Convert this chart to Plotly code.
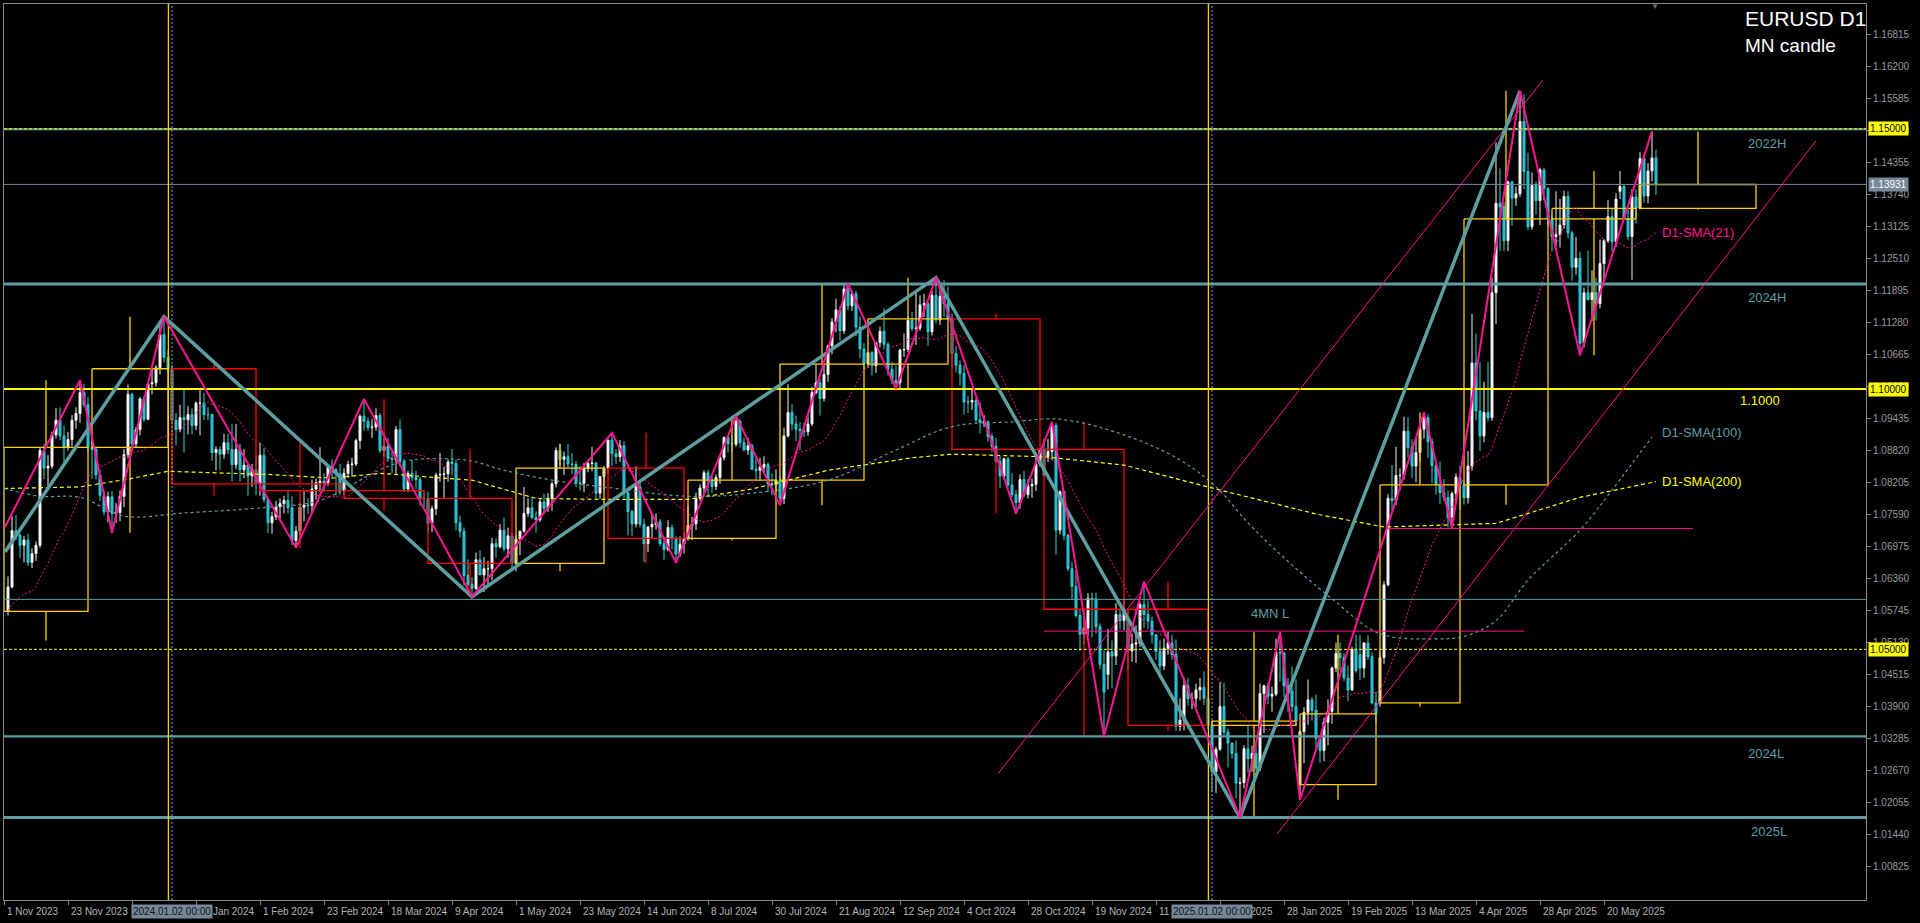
import plotly.graph_objects as go

# ---------------- daily EURUSD candles (bar index 0 = 2 Nov 2023 ... 412 = 6 Jun 2025) ----------------
open_ = [
 1.0573,1.0620,1.0728,1.0719,1.0700,1.0710,1.0667,1.0684,1.0700,1.0882,1.0848,1.0852,1.0912,1.0940,1.0910,1.0888,1.0903,1.0940,1.0953,1.0993,1.0970,
 1.0888,1.0884,1.0835,1.0796,1.0764,1.0793,1.0761,1.0763,1.0794,1.0874,1.0990,1.0895,1.0922,1.0981,1.0942,1.1010,1.1012,1.1041,1.1105,1.1061,
 1.1039,1.0940,1.0922,1.0945,1.0941,1.0951,1.0930,1.0973,1.0973,1.0951,1.0951,1.0878,1.0884,1.0875,1.0897,1.0884,1.0855,1.0884,1.0845,1.0854,1.0833,1.0845,
 1.0818,1.0873,1.0788,1.0743,1.0755,1.0774,1.0780,1.0786,1.0772,1.0709,1.0727,1.0773,1.0777,1.0776,1.0808,1.0820,1.0823,1.0820,1.0851,1.0845,1.0837,
 1.0805,1.0838,1.0855,1.0856,1.0901,1.0948,1.0938,1.0926,1.0927,1.0949,1.0882,1.0890,1.0867,1.0865,1.0922,1.0861,1.0808,1.0838,1.0830,1.0826,1.0790,
 1.0790,1.0742,1.0770,1.0835,1.0836,1.0837,1.0860,1.0857,1.0743,1.0727,1.0642,1.0625,1.0617,1.0672,1.0643,1.0655,1.0655,1.0703,1.0697,1.0729,1.0693,1.0718,
 1.0665,1.0712,1.0727,1.0761,1.0772,1.0753,1.0749,1.0783,1.0771,1.0790,1.0818,1.0882,1.0865,1.0870,1.0856,1.0855,1.0820,1.0819,1.0847,1.0857,1.0858,1.0800,1.0832,
 1.0848,1.0902,1.0876,1.0870,1.0891,1.0801,1.0765,1.0741,1.0812,1.0740,1.0703,1.0735,1.0740,1.0745,1.0703,1.0692,1.0734,1.0713,1.0683,1.0702,
 1.0713,1.0738,1.0741,1.0790,1.0810,1.0839,1.0825,1.0813,1.0830,1.0868,1.0907,1.0895,1.0894,1.0938,1.0897,1.0883,1.0891,1.0846,1.0844,1.0850,1.0855,1.0818,1.0816,
 1.0825,1.0790,1.0910,1.0955,1.0933,1.0923,1.0920,1.0918,1.0933,1.0993,1.1012,1.0982,1.1028,1.1083,1.1129,1.1152,1.1112,1.1192,1.1160,1.1183,1.1119,1.1077,
 1.1048,1.1070,1.1045,1.1089,1.1111,1.1086,1.1038,1.1017,1.1012,1.1075,1.1076,1.1132,1.1116,1.1117,1.1162,1.1164,1.1110,1.1180,1.1133,1.1178,1.1164,
 1.1135,1.1068,1.1046,1.1030,1.0975,1.0975,1.0978,1.0941,1.0936,1.0937,1.0909,1.0890,1.0861,1.0833,1.0866,1.0816,1.0797,1.0782,1.0826,1.0797,1.0814,1.0817,1.0855,
 1.0884,1.0870,1.0880,1.0930,1.0729,1.0803,1.0719,1.0655,1.0621,1.0565,1.0529,1.0541,1.0598,1.0597,1.0544,1.0471,1.0452,1.0495,1.0487,1.0567,1.0555,
 1.0560,1.0497,1.0510,1.0512,1.0586,1.0567,1.0554,1.0528,1.0496,1.0468,1.0502,1.0512,1.0490,1.0352,1.0364,1.0430,1.0405,1.0406,1.0422,1.0427,1.0406,
 1.0354,1.0265,1.0308,1.0390,1.0341,1.0320,1.0300,1.0243,1.0244,1.0309,1.0290,1.0300,1.0272,1.0415,1.0430,1.0410,1.0414,1.0494,1.0493,1.0430,1.0420,1.0390,
 1.0240,1.0342,1.0379,1.0403,1.0383,1.0329,1.0306,1.0360,1.0381,1.0464,1.0492,1.0484,1.0445,1.0422,1.0500,1.0490,1.0464,1.0512,1.0486,1.0397,
 1.0397,1.0484,1.0624,1.0790,1.0786,1.0834,1.0834,1.0919,1.0888,1.0852,1.0878,1.0923,1.0945,1.0899,1.0853,1.0816,1.0801,1.0792,1.0754,1.0799,1.0831,
 1.0816,1.0791,1.0852,1.1050,1.0958,1.0910,1.0955,1.0945,1.1185,1.1357,1.1350,1.1285,1.1398,1.1367,1.1375,1.1514,1.1418,1.1312,1.1391,1.1362,1.1421,1.1385,
 1.1327,1.1293,1.1297,1.1315,1.1370,1.1300,1.1234,1.1251,1.1088,1.1185,1.1172,1.1185,1.1164,1.1241,1.1285,1.1331,1.1283,1.1380,1.1389,1.1327,1.1293,1.1369,
 1.1347,1.1443,1.1371,1.1419,1.1444]
high = [
 1.0640,1.0756,1.0758,1.0723,1.0718,1.0722,1.0694,1.0707,1.0887,1.0895,1.0873,1.0918,1.0964,1.0965,1.0930,1.0918,1.0950,1.0965,1.1017,1.1010,1.0985,
 1.0900,1.0890,1.0845,1.0805,1.0803,1.0804,1.0781,1.0805,1.0885,1.1009,1.0993,1.0927,1.0985,1.0988,1.1012,1.1040,1.1046,1.1122,1.1139,1.1075,
 1.1046,1.0954,1.0970,1.0998,1.0967,1.0963,1.0976,1.0998,1.0993,1.0965,1.0953,1.0890,1.0890,1.0914,1.0914,1.0932,1.0933,1.0895,1.0885,1.0856,1.0856,1.0873,
 1.0897,1.0887,1.0791,1.0764,1.0785,1.0790,1.0795,1.0806,1.0794,1.0737,1.0781,1.0806,1.0790,1.0826,1.0828,1.0888,1.0838,1.0855,1.0865,1.0848,1.0856,
 1.0848,1.0862,1.0868,1.0905,1.0951,1.0981,1.0945,1.0943,1.0963,1.0954,1.0907,1.0906,1.0879,1.0929,1.0942,1.0866,1.0843,1.0864,1.0843,1.0831,1.0803,
 1.0803,1.0776,1.0839,1.0877,1.0851,1.0865,1.0885,1.0865,1.0757,1.0734,1.0673,1.0639,1.0686,1.0690,1.0677,1.0670,1.0714,1.0713,1.0741,1.0753,1.0734,1.0722,
 1.0720,1.0728,1.0812,1.0790,1.0791,1.0765,1.0790,1.0799,1.0800,1.0822,1.0888,1.0895,1.0880,1.0894,1.0877,1.0862,1.0852,1.0858,1.0863,1.0889,1.0860,1.0833,1.0852,
 1.0902,1.0916,1.0885,1.0902,1.0900,1.0802,1.0768,1.0852,1.0826,1.0751,1.0737,1.0762,1.0761,1.0750,1.0716,1.0748,1.0740,1.0717,1.0717,1.0724,
 1.0776,1.0754,1.0801,1.0817,1.0844,1.0845,1.0834,1.0836,1.0871,1.0909,1.0911,1.0911,1.0948,1.0943,1.0907,1.0906,1.0895,1.0868,1.0868,1.0871,1.0859,1.0838,1.0846,
 1.0833,1.0926,1.1009,1.0971,1.0949,1.0937,1.0935,1.0947,1.1004,1.1047,1.1020,1.1048,1.1085,1.1136,1.1174,1.1159,1.1201,1.1202,1.1189,1.1189,1.1140,1.1088,
 1.1072,1.1073,1.1090,1.1120,1.1155,1.1090,1.1052,1.1045,1.1078,1.1107,1.1140,1.1148,1.1190,1.1180,1.1183,1.1167,1.1189,1.1214,1.1203,1.1209,1.1197,
 1.1145,1.1083,1.1055,1.1046,1.0987,1.0999,1.0983,1.0975,1.0950,1.0940,1.0915,1.0906,1.0871,1.0868,1.0870,1.0839,1.0806,1.0836,1.0843,1.0827,1.0828,1.0869,1.0886,
 1.0905,1.0904,1.0937,1.0935,1.0805,1.0805,1.0722,1.0668,1.0652,1.0576,1.0568,1.0608,1.0609,1.0609,1.0550,1.0498,1.0539,1.0517,1.0589,1.0576,1.0597,
 1.0574,1.0530,1.0546,1.0591,1.0630,1.0594,1.0563,1.0530,1.0517,1.0521,1.0534,1.0528,1.0519,1.0406,1.0446,1.0445,1.0417,1.0434,1.0445,1.0458,1.0418,
 1.0364,1.0313,1.0437,1.0436,1.0348,1.0321,1.0325,1.0254,1.0316,1.0353,1.0315,1.0314,1.0434,1.0432,1.0436,1.0428,1.0520,1.0533,1.0495,1.0445,1.0467,1.0442,
 1.0344,1.0389,1.0442,1.0408,1.0413,1.0333,1.0369,1.0404,1.0467,1.0513,1.0513,1.0493,1.0469,1.0505,1.0528,1.0528,1.0514,1.0527,1.0494,1.0418,
 1.0496,1.0631,1.0798,1.0854,1.0889,1.0848,1.0947,1.0946,1.0904,1.0906,1.0927,1.0955,1.0951,1.0906,1.0860,1.0861,1.0827,1.0805,1.0803,1.0838,1.0853,
 1.0821,1.0881,1.1144,1.1107,1.1051,1.1014,1.1052,1.1214,1.1474,1.1424,1.1359,1.1400,1.1400,1.1389,1.1573,1.1566,1.1454,1.1416,1.1399,1.1425,1.1425,1.1388,
 1.1335,1.1380,1.1365,1.1381,1.1380,1.1304,1.1292,1.1264,1.1195,1.1266,1.1228,1.1214,1.1287,1.1288,1.1363,1.1346,1.1376,1.1419,1.1394,1.1346,1.1384,1.1384,
 1.1455,1.1452,1.1434,1.1495,1.1460]
low = [
 1.0565,1.0617,1.0710,1.0676,1.0667,1.0660,1.0656,1.0670,1.0695,1.0827,1.0813,1.0847,1.0905,1.0902,1.0852,1.0882,1.0890,1.0924,1.0935,1.0965,1.0880,
 1.0828,1.0826,1.0785,1.0757,1.0744,1.0724,1.0743,1.0746,1.0773,1.0867,1.0880,1.0888,1.0911,1.0937,1.0940,1.0990,1.1005,1.1028,1.1051,1.1032,
 1.0937,1.0892,1.0917,1.0878,1.0913,1.0913,1.0921,1.0911,1.0940,1.0940,1.0862,1.0844,1.0845,1.0866,1.0875,1.0822,1.0846,1.0822,1.0829,1.0795,1.0812,1.0796,
 1.0795,1.0782,1.0723,1.0722,1.0748,1.0751,1.0761,1.0761,1.0700,1.0695,1.0717,1.0746,1.0760,1.0761,1.0788,1.0803,1.0802,1.0814,1.0830,1.0796,1.0796,
 1.0796,1.0829,1.0832,1.0852,1.0885,1.0920,1.0920,1.0906,1.0920,1.0877,1.0869,1.0860,1.0838,1.0836,1.0852,1.0802,1.0802,1.0823,1.0808,1.0776,1.0773,
 1.0724,1.0725,1.0758,1.0822,1.0791,1.0822,1.0834,1.0728,1.0715,1.0622,1.0620,1.0601,1.0614,1.0643,1.0610,1.0624,1.0633,1.0676,1.0694,1.0688,1.0676,1.0650,
 1.0650,1.0681,1.0724,1.0755,1.0750,1.0724,1.0745,1.0760,1.0764,1.0766,1.0811,1.0853,1.0835,1.0848,1.0836,1.0812,1.0805,1.0802,1.0840,1.0842,1.0789,1.0789,1.0807,
 1.0837,1.0852,1.0856,1.0860,1.0790,1.0719,1.0718,1.0734,1.0734,1.0668,1.0687,1.0713,1.0730,1.0698,1.0671,1.0689,1.0692,1.0666,1.0678,1.0684,
 1.0709,1.0710,1.0729,1.0785,1.0796,1.0792,1.0801,1.0806,1.0818,1.0863,1.0878,1.0878,1.0889,1.0888,1.0880,1.0874,1.0845,1.0825,1.0826,1.0838,1.0802,1.0796,1.0803,
 1.0777,1.0779,1.0907,1.0921,1.0900,1.0882,1.0908,1.0910,1.0929,1.0990,1.0949,1.0976,1.1014,1.1067,1.1109,1.1093,1.1106,1.1152,1.1150,1.1102,1.1059,1.1040,
 1.1041,1.1026,1.1031,1.1080,1.1076,1.1026,1.1010,1.1001,1.1002,1.1062,1.1071,1.1111,1.1085,1.1112,1.1138,1.1083,1.1103,1.1126,1.1123,1.1139,1.1134,
 1.1040,1.1032,1.1007,1.0951,1.0954,1.0960,1.0935,1.0915,1.0927,1.0899,1.0879,1.0859,1.0810,1.0829,1.0811,1.0792,1.0761,1.0770,1.0793,1.0790,1.0791,1.0804,1.0851,
 1.0830,1.0860,1.0864,1.0682,1.0721,1.0709,1.0650,1.0595,1.0561,1.0497,1.0510,1.0525,1.0523,1.0530,1.0462,1.0333,1.0423,1.0425,1.0470,1.0538,1.0537,
 1.0460,1.0476,1.0474,1.0505,1.0541,1.0539,1.0511,1.0480,1.0452,1.0460,1.0490,1.0480,1.0343,1.0343,1.0344,1.0392,1.0385,1.0389,1.0402,1.0393,1.0347,
 1.0226,1.0224,1.0305,1.0335,1.0273,1.0290,1.0214,1.0177,1.0233,1.0263,1.0265,1.0266,1.0266,1.0339,1.0395,1.0380,1.0410,1.0438,1.0408,1.0380,1.0380,1.0355,
 1.0211,1.0281,1.0355,1.0363,1.0306,1.0282,1.0285,1.0316,1.0357,1.0456,1.0460,1.0439,1.0400,1.0420,1.0455,1.0441,1.0445,1.0480,1.0394,1.0359,
 1.0390,1.0472,1.0621,1.0767,1.0777,1.0805,1.0826,1.0868,1.0829,1.0821,1.0861,1.0905,1.0868,1.0819,1.0797,1.0779,1.0784,1.0734,1.0733,1.0781,1.0768,
 1.0778,1.0780,1.0843,1.0940,1.0881,1.0898,1.0938,1.0939,1.1125,1.1265,1.1265,1.1265,1.1314,1.1352,1.1369,1.1384,1.1306,1.1306,1.1335,1.1315,1.1363,1.1312,
 1.1265,1.1273,1.1272,1.1308,1.1290,1.1208,1.1220,1.1065,1.1080,1.1170,1.1131,1.1132,1.1155,1.1206,1.1281,1.1264,1.1273,1.1365,1.1324,1.1286,1.1210,1.1318,
 1.1345,1.1358,1.1357,1.1399,1.1373]
close = [
 1.0620,1.0728,1.0719,1.0700,1.0710,1.0667,1.0684,1.0700,1.0882,1.0848,1.0852,1.0912,1.0940,1.0910,1.0888,1.0903,1.0940,1.0953,1.0993,1.0970,1.0888,
 1.0884,1.0835,1.0796,1.0764,1.0793,1.0761,1.0763,1.0794,1.0874,1.0990,1.0895,1.0922,1.0981,1.0942,1.1010,1.1012,1.1041,1.1105,1.1061,1.1039,
 1.0940,1.0922,1.0945,1.0941,1.0951,1.0930,1.0973,1.0973,1.0951,1.0951,1.0878,1.0884,1.0875,1.0897,1.0884,1.0855,1.0884,1.0845,1.0854,1.0833,1.0845,1.0818,
 1.0873,1.0788,1.0743,1.0755,1.0774,1.0780,1.0786,1.0772,1.0709,1.0727,1.0773,1.0777,1.0776,1.0808,1.0820,1.0823,1.0820,1.0851,1.0845,1.0837,1.0805,
 1.0838,1.0855,1.0856,1.0901,1.0948,1.0938,1.0926,1.0927,1.0949,1.0882,1.0890,1.0867,1.0865,1.0922,1.0861,1.0808,1.0838,1.0830,1.0826,1.0790,1.0790,
 1.0742,1.0770,1.0835,1.0836,1.0837,1.0860,1.0857,1.0743,1.0727,1.0642,1.0625,1.0617,1.0672,1.0643,1.0655,1.0655,1.0703,1.0697,1.0729,1.0693,1.0718,1.0665,
 1.0712,1.0727,1.0761,1.0772,1.0753,1.0749,1.0783,1.0771,1.0790,1.0818,1.0882,1.0865,1.0870,1.0856,1.0855,1.0820,1.0819,1.0847,1.0857,1.0858,1.0800,1.0832,1.0848,
 1.0902,1.0876,1.0870,1.0891,1.0801,1.0765,1.0741,1.0812,1.0740,1.0703,1.0735,1.0740,1.0745,1.0703,1.0692,1.0734,1.0713,1.0683,1.0702,1.0713,
 1.0738,1.0741,1.0790,1.0810,1.0839,1.0825,1.0813,1.0830,1.0868,1.0907,1.0895,1.0894,1.0938,1.0897,1.0883,1.0891,1.0846,1.0844,1.0850,1.0855,1.0818,1.0816,1.0825,
 1.0790,1.0910,1.0955,1.0933,1.0923,1.0920,1.0918,1.0933,1.0993,1.1012,1.0982,1.1028,1.1083,1.1129,1.1152,1.1112,1.1192,1.1160,1.1183,1.1119,1.1077,1.1048,
 1.1070,1.1045,1.1089,1.1111,1.1086,1.1038,1.1017,1.1012,1.1075,1.1076,1.1132,1.1116,1.1117,1.1162,1.1164,1.1110,1.1180,1.1133,1.1178,1.1164,1.1135,
 1.1068,1.1046,1.1030,1.0975,1.0975,1.0978,1.0941,1.0936,1.0937,1.0909,1.0890,1.0861,1.0833,1.0866,1.0816,1.0797,1.0782,1.0826,1.0797,1.0814,1.0817,1.0855,1.0884,
 1.0834,1.0880,1.0930,1.0729,1.0803,1.0719,1.0655,1.0621,1.0565,1.0529,1.0541,1.0598,1.0597,1.0544,1.0471,1.0418,1.0495,1.0487,1.0567,1.0555,1.0577,
 1.0497,1.0510,1.0512,1.0586,1.0567,1.0554,1.0528,1.0496,1.0468,1.0502,1.0512,1.0490,1.0352,1.0364,1.0430,1.0405,1.0406,1.0422,1.0427,1.0406,1.0354,
 1.0265,1.0308,1.0390,1.0341,1.0320,1.0300,1.0243,1.0244,1.0309,1.0290,1.0300,1.0272,1.0415,1.0430,1.0410,1.0414,1.0494,1.0493,1.0430,1.0420,1.0390,1.0362,
 1.0342,1.0379,1.0403,1.0383,1.0329,1.0306,1.0360,1.0381,1.0464,1.0492,1.0484,1.0445,1.0422,1.0500,1.0459,1.0464,1.0512,1.0486,1.0397,1.0376,
 1.0484,1.0624,1.0790,1.0786,1.0834,1.0834,1.0919,1.0888,1.0852,1.0878,1.0923,1.0945,1.0899,1.0853,1.0816,1.0801,1.0792,1.0754,1.0799,1.0831,1.0816,
 1.0791,1.0852,1.1050,1.0958,1.0910,1.0955,1.0945,1.1185,1.1357,1.1350,1.1285,1.1398,1.1367,1.1375,1.1514,1.1418,1.1312,1.1391,1.1362,1.1421,1.1385,1.1327,
 1.1293,1.1297,1.1315,1.1370,1.1300,1.1234,1.1251,1.1088,1.1185,1.1172,1.1185,1.1164,1.1241,1.1285,1.1331,1.1283,1.1365,1.1389,1.1327,1.1293,1.1369,1.1347,
 1.1443,1.1371,1.1419,1.1444,1.1393]

# closes of the 20 sessions before the first visible bar (needed to start the 21-day average)
prior_close = [1.0505,1.0548,1.0587,1.0563,1.0606,1.0620,1.0530,1.0510,1.0553,1.0577,
               1.0535,1.0583,1.0594,1.0670,1.0590,1.0565,1.0563,1.0565,1.0615,1.0575]

# ---------------- monthly (MN) candles ----------------
mn_start = [-1, 21, 41, 63, 84, 105, 127, 150, 170, 193, 215, 236, 259, 280, 301, 323, 343, 364, 386, 408]
mn_end   = [20, 40, 62, 83, 104, 126, 149, 169, 192, 214, 235, 258, 279, 300, 322, 342, 363, 385, 407, 437]
mn_open  = [1.0573,1.0888,1.1039,1.0818,1.0805,1.0790,1.0665,1.0848,1.0713,1.0825,1.1048,1.1135,1.0884,1.0577,1.0354,1.0240,1.0397,1.0816,1.1327,1.1347]
mn_high  = [1.1017,1.1139,1.1046,1.0897,1.0981,1.0885,1.0895,1.0916,1.0948,1.1202,1.1214,1.1145,1.0937,1.0630,1.0533,1.0528,1.0955,1.1573,1.1419,1.1495]
mn_low   = [1.0517,1.0724,1.0795,1.0695,1.0767,1.0601,1.0650,1.0666,1.0709,1.0777,1.1001,1.0761,1.0333,1.0343,1.0177,1.0211,1.0390,1.0778,1.1065,1.1345]
mn_close = [1.0888,1.1039,1.0818,1.0805,1.0790,1.0665,1.0848,1.0713,1.0825,1.1048,1.1135,1.0884,1.0577,1.0354,1.0362,1.0376,1.0816,1.1327,1.1347,1.1393]

# ---------------- moving averages (100 / 200) ----------------
sma100_x = [-1, 8, 18, 29, 44, 65, 78, 93, 100, 115, 124, 136, 149, 170, 186, 205, 222, 236, 251, 263, 279, 293, 302, 310, 318, 331, 343, 356, 364, 372, 380, 393, 401, 411]
sma100_y = [1.0809,1.0794,1.0792,1.0756,1.0762,1.0773,1.0786,1.0845,1.0863,1.0863,1.0844,1.0825,1.0812,1.0794,1.0800,1.0825,1.0883,1.0928,1.0937,1.0942,1.0912,1.0864,1.0812,1.0743,1.0683,1.0597,1.0530,1.0520,1.0525,1.0555,1.0633,1.0729,1.0806,1.0908]
sma200_x = [-1, 18, 30, 40, 65, 81, 93, 116, 132, 149, 170, 186, 205, 226, 236, 259, 279, 302, 327, 344, 372, 393, 410, 412]
sma200_y = [1.0809,1.0812,1.0827,1.0842,1.0836,1.0829,1.0838,1.0825,1.0790,1.0788,1.0788,1.0808,1.0844,1.0868,1.0875,1.0870,1.0854,1.0808,1.0760,1.0735,1.0742,1.0792,1.0819,1.0822]

# ---------------- zigzags ----------------
zz_pink_x = [-0.75, 18, 26, 39, 72, 89, 116, 151, 167, 182, 193, 210, 222, 232, 252, 261, 274, 284, 308, 318, 323, 354, 361, 378, 393, 411]
zz_pink_y = [1.0735,1.1017,1.0724,1.1139,1.0695,1.0981,1.0601,1.0916,1.0666,1.0948,1.0777,1.1202,1.1001,1.1214,1.0761,1.0937,1.0333,1.0630,1.0177,1.0533,1.0211,1.0955,1.0733,1.1573,1.1065,1.1495]
zz_teal_x = [-0.75, 39, 116, 232, 308, 378]
zz_teal_y = [1.0687, 1.1139, 1.0601, 1.1214, 1.0177, 1.1573]

# ---------------- trend lines (two anchor points each) ----------------
trend_a_x = [247.5, 383.75]
trend_a_y = [1.0261, 1.1594]
trend_b_x = [317.25, 452.0]
trend_b_y = [1.0145, 1.1477]

# ---------------- horizontal levels ----------------
lvl_2022h, lvl_1150, lvl_bid, lvl_2024h = 1.1499, 1.1500, 1.13931, 1.1202
lvl_1100, lvl_4mn, lvl_1050, lvl_2024l, lvl_2025l = 1.1000, 1.0596, 1.0500, 1.0333, 1.0177
pink_lvl_a, pink_lvl_a_x = 1.0535, [259, 379]
pink_lvl_b, pink_lvl_b_x = 1.0732, [345, 421.25]

# x-axis labels
tick_pos = [16 * k - 1 for k in range(26)]
tick_text = ["1 Nov 2023", "23 Nov 2023", "15 Dec 2023", "10 Jan 2024", "1 Feb 2024", "23 Feb 2024",
             "18 Mar 2024", "9 Apr 2024", "1 May 2024", "23 May 2024", "14 Jun 2024", "8 Jul 2024",
             "30 Jul 2024", "21 Aug 2024", "12 Sep 2024", "4 Oct 2024", "28 Oct 2024", "19 Nov 2024",
             "11 Dec 2024", "6 Jan 2025", "28 Jan 2025", "19 Feb 2025", "13 Mar 2025", "4 Apr 2025",
             "28 Apr 2025", "20 May 2025"]
ytick_vals = [1.00825 + 0.00615 * k for k in range(27)]

# ---------------- geometry ----------------
W, H = 1920, 923
L_PX, R_PX, T_PX, B_PX = 4, 1866, 4, 900
X0, X1 = -1.0, 464.5
Y_SLOPE = 0.0001921
Y_REF_PRICE, Y_REF_PX = 1.16815, 34.3
Y_LO = Y_REF_PRICE - (B_PX - Y_REF_PX) * Y_SLOPE
Y_HI = Y_REF_PRICE + (Y_REF_PX - T_PX) * Y_SLOPE


def ppx(px):
    return (px - L_PX) / (R_PX - L_PX)


def ppy(py):
    return (B_PX - py) / (B_PX - T_PX)


FONT = "Liberation Sans, Arial, sans-serif"
PINK = "#ff1493"
TEAL = "#5f9ea0"
GOLD = "#ffd000"
YEL = "#ffff00"

n = len(close)
xs = list(range(n))

# 21-day simple moving average of closes
allc = prior_close + close
sma21 = [sum(allc[i - 20:i + 1]) / 21.0 for i in range(20, len(allc))]

fig = go.Figure()

# monthly candles (behind)
for up in (True, False):
    bx, by = [], []
    for s, e, o, h, l, c in zip(mn_start, mn_end, mn_open, mn_high, mn_low, mn_close):
        if (c >= o) != up:
            continue
        top, bot = max(o, c), min(o, c)
        mid = (s + e) / 2.0
        bx += [s, e, e, s, s, None, mid, mid, None, mid, mid, None]
        by += [top, top, bot, bot, top, None, top, h, None, bot, l, None]
    fig.add_trace(go.Scatter(x=bx, y=by, mode="lines", line=dict(color=GOLD if up else "#ff0000", width=1.3),
                             hoverinfo="skip"))

# daily candles
fig.add_trace(go.Candlestick(
    x=xs, open=open_, high=high, low=low, close=close,
    increasing=dict(line=dict(color="#f4f4f4", width=1), fillcolor="#fff4f4"),
    decreasing=dict(line=dict(color="#33d6d0", width=1), fillcolor="#1ea4ee"),
    hoverinfo="skip"))

# moving averages
fig.add_trace(go.Scatter(x=sma200_x, y=sma200_y, mode="lines", line=dict(color=YEL, width=1.2, dash="4px,3px"), hoverinfo="skip"))
fig.add_trace(go.Scatter(x=sma100_x, y=sma100_y, mode="lines", line=dict(color=TEAL, width=1.2, dash="3px,3px"), line_shape="spline", hoverinfo="skip"))
fig.add_trace(go.Scatter(x=xs, y=sma21, mode="lines", line=dict(color=PINK, width=1, dash="2px,2px"), hoverinfo="skip"))

# horizontal levels
def hline(y, color, width, dash="solid", xr=(X0, X1)):
    fig.add_trace(go.Scatter(x=list(xr), y=[y, y], mode="lines", line=dict(color=color, width=width, dash=dash), hoverinfo="skip"))

hline(lvl_4mn, TEAL, 1)
hline(lvl_bid, "#778899", 1)
hline(lvl_2024l, TEAL, 2.2)
hline(lvl_2025l, TEAL, 3)
hline(lvl_2024h, TEAL, 3)
hline(lvl_2022h, TEAL, 2)
hline(lvl_1150, YEL, 1, "3px,2px")
hline(lvl_1050, YEL, 1, "3px,2px")
hline(lvl_1100, YEL, 2)
hline(pink_lvl_a, PINK, 1, xr=pink_lvl_a_x)
hline(pink_lvl_b, PINK, 1, xr=pink_lvl_b_x)

# year separators / cursor lines
for xv in (40.1, 300.1):
    fig.add_trace(go.Scatter(x=[xv, xv], y=[Y_LO, Y_HI], mode="lines", line=dict(color=GOLD, width=1.3), hoverinfo="skip"))
for xv in (41, 301):
    fig.add_trace(go.Scatter(x=[xv, xv], y=[Y_LO, Y_HI], mode="lines", line=dict(color="#9aa0a6", width=1, dash="2px,2px"), hoverinfo="skip"))

# trend lines
fig.add_trace(go.Scatter(x=trend_a_x, y=trend_a_y, mode="lines", line=dict(color=PINK, width=1), hoverinfo="skip"))
fig.add_trace(go.Scatter(x=trend_b_x, y=trend_b_y, mode="lines", line=dict(color=PINK, width=1), hoverinfo="skip"))

# zigzags
fig.add_trace(go.Scatter(x=zz_teal_x, y=zz_teal_y, mode="lines", line=dict(color=TEAL, width=3.5), hoverinfo="skip"))
fig.add_trace(go.Scatter(x=zz_pink_x, y=zz_pink_y, mode="lines", line=dict(color=PINK, width=2), hoverinfo="skip"))

ann = []

def txt(text, px, py, color, size, xanchor="left", **kw):
    ann.append(dict(text=text, x=ppx(px), y=ppy(py), xref="paper", yref="paper", xanchor=xanchor,
                    yanchor="middle", showarrow=False, font=dict(family=FONT, size=size, color=color), **kw))

# chart labels
txt("2022H", 1746, 143, TEAL, 13)
txt("2024H", 1746, 297, TEAL, 13)
txt("1.1000", 1738, 401, YEL, 13)
txt("D1-SMA(21)", 1660, 233, PINK, 13)
txt("D1-SMA(100)", 1660, 432, TEAL, 13)
txt("D1-SMA(200)", 1660, 482, YEL, 13)
txt("4MN L", 1249, 613, TEAL, 13)
txt("2024L", 1746, 753, TEAL, 13)
txt("2025L", 1749, 831, TEAL, 13)
txt("EURUSD D1", 1743, 18, "#ffffff", 21)
txt("MN candle", 1743, 45, "#ffffff", 19)
txt("▼", 1655, 6, "#6e6e6e", 8, xanchor="center")

# x tick labels (left aligned at their tick, as in the terminal)
for tp, tt in zip(tick_pos, tick_text):
    ann.append(dict(text=tt, x=tp, y=ppy(911), xref="x", yref="paper", xanchor="left", yanchor="middle",
                    xshift=1, showarrow=False, font=dict(family=FONT, size=10, color="#b4b4b4")))
# highlighted time labels of the vertical lines
for xv, tt in ((41, "2024.01.02 00:00"), (301, "2025.01.02 00:00")):
    ann.append(dict(text=tt, x=xv, y=ppy(911), xref="x", yref="paper", xanchor="center", yanchor="middle",
                    showarrow=False, bgcolor="#778899", borderpad=1,
                    font=dict(family=FONT, size=10, color="#101010")))
# price tags on the right scale
for val, bg, fg in ((lvl_1150, YEL, "#000000"), (lvl_bid, "#778899", "#ffffff"),
                    (lvl_1100, YEL, "#000000"), (lvl_1050, YEL, "#000000")):
    ann.append(dict(text="%.5f" % val, x=ppx(1868), y=val, xref="paper", yref="y", xanchor="left",
                    yanchor="middle", showarrow=False, bgcolor=bg, borderpad=1,
                    font=dict(family=FONT, size=10, color=fg)))

fig.update_layout(
    width=W, height=H,
    margin=dict(l=L_PX, r=W - R_PX, t=T_PX, b=H - B_PX, pad=0),
    paper_bgcolor="#000000", plot_bgcolor="#000000",
    showlegend=False, hovermode=False,
    annotations=ann,
    xaxis=dict(range=[X0, X1], showgrid=False, zeroline=False, showline=True, mirror=True,
               linecolor="#8a8a8a", linewidth=1, ticks="outside", ticklen=4, tickcolor="#8a8a8a",
               tickvals=tick_pos, showticklabels=False, rangeslider=dict(visible=False), fixedrange=True),
    yaxis=dict(range=[Y_LO, Y_HI], side="right", showgrid=False, zeroline=False, showline=True, mirror=True,
               linecolor="#8a8a8a", linewidth=1, ticks="outside", ticklen=4, tickcolor="#8a8a8a",
               tickvals=ytick_vals, ticktext=["%.5f" % v for v in ytick_vals],
               tickfont=dict(family=FONT, size=10, color="#9a9a9a"), fixedrange=True),
)

fig.write_html("out.html", config={"displayModeBar": False},
               post_script="document.body.style.margin='0';document.body.style.overflow='hidden';")
